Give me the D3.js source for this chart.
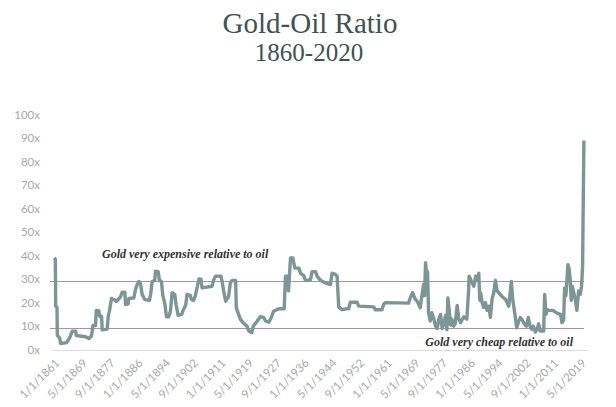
<!DOCTYPE html>
<html>
<head>
<meta charset="utf-8">
<script src="https://cdn.jsdelivr.net/npm/d3@7"></script>
<style>
  html, body { margin: 0; padding: 0; background: #ffffff; }
  svg { display: block; }
</style>
</head>
<body>
<svg id="chart" width="616" height="407"></svg>
<script>
// ---------- DATA ----------
const titleText = "Gold-Oil Ratio";
const subtitleText = "1860-2020";

// decimal years and the gold/oil ratio
const years = [
  1861.0,1861.4,1861.5,1861.9,1862.0,1862.7,1863.0,1864.8,1865.0,1865.7,1866.5,1867.5,1867.7,1870.5,1871.5,1872.3,
  1872.7,1873.5,1873.7,1874.5,1874.7,1875.3,1875.5,1877.0,1877.3,1877.7,1878.3,1879.5,1879.7,1881.0,1881.5,1882.3,
  1882.5,1883.3,1883.5,1885.0,1885.5,1886.0,1886.5,1887.0,1887.5,1888.3,1889.7,1890.1,1890.5,1891.3,1891.5,1892.3,
  1892.7,1893.3,1893.7,1894.3,1894.8,1895.5,1896.0,1896.5,1897.3,1897.7,1898.3,1899.4,1899.8,1900.6,1901.0,1902.0,
  1902.3,1903.0,1903.5,1904.0,1904.6,1905.2,1905.5,1908.5,1909.0,1909.6,1911.2,1911.6,1912.0,1912.6,1913.5,1914.0,
  1914.6,1915.6,1915.8,1916.5,1917.0,1918.1,1919.0,1919.6,1920.5,1920.9,1922.1,1923.0,1924.0,1924.6,1925.6,1926.4,
  1927.0,1928.6,1930.2,1930.6,1931.3,1931.5,1932.1,1932.8,1933.4,1934.6,1935.1,1936.1,1936.6,1938.1,1938.6,1939.6,
  1940.1,1941.1,1942.6,1944.1,1944.6,1945.6,1946.1,1946.6,1947.6,1949.6,1950.1,1952.1,1952.6,1957.1,1957.6,1959.6,
  1960.1,1960.6,1967.6,1968.1,1968.8,1969.6,1970.1,1970.6,1971.1,1971.6,1972.1,1972.4,1972.7,1973.0,1973.3,1973.6,
  1974.1,1974.6,1975.1,1975.7,1976.2,1976.7,1977.2,1977.7,1978.2,1978.7,1979.1,1979.4,1979.8,1980.2,1980.6,1981.1,
  1981.6,1982.2,1982.7,1983.2,1984.2,1985.1,1985.6,1985.8,1986.5,1987.2,1987.8,1988.4,1988.7,1989.0,1989.3,1989.7,
  1990.2,1990.7,1991.2,1991.7,1992.2,1992.7,1993.2,1993.7,1994.2,1994.8,1995.8,1996.8,1997.7,1998.5,1998.9,1999.5,
  2000.1,2000.7,2001.2,2001.8,2002.4,2003.0,2003.6,2004.1,2004.6,2005.1,2005.7,2006.2,2006.7,2007.2,2008.2,2008.5,
  2008.9,2009.3,2009.8,2011.0,2012.2,2013.3,2013.7,2014.2,2014.5,2014.9,2015.5,2015.9,2016.2,2016.5,2016.8,2017.3,
  2017.7,2018.2,2018.7,2019.2,2019.6,2019.9,2020.3
];
const ratios = [
  40,39.5,19.5,19,7,6,3.6,4,4.5,6,8.9,8.9,7,6.5,5.7,6.9,
  11.3,11.3,17.7,17.5,15.2,15.2,9.4,9.8,15.2,17.7,22.8,22,21.5,23.4,25.5,25.5,
  20.2,20.5,22.8,23,26.6,28.7,30,29,24.5,22.3,22,25,30,30.5,34.4,34.2,
  30.5,30,24.2,20.7,15,15,17.3,25.2,24.5,20.2,15.6,16,17.7,20,24.5,24,
  22.4,22,24,27.3,31.1,31,27.3,28,30.7,32.3,32.3,29.4,26,21.6,23.7,29.4,
  30.5,30.5,18.8,16,14,12.1,11,8.9,8.2,11,13.2,15,14.7,13.2,12.7,15,
  17.3,18.4,18.4,32.3,32.3,26,40,40,35.7,35.7,33.5,32.5,30.4,30.8,34.2,34.2,
  32.3,30.5,29.4,28.7,33.5,33,32.3,19.2,18,18.5,21.2,21.2,19.5,19.2,18,18,
  20.3,21,20.8,23,25.3,22.4,21.8,20.3,18.8,24,28.7,24,38,33.5,34,16.7,
  13.2,16.7,14.5,11,10,14,16,10,12,15.5,9.5,23,18,11.5,14,11,
  12,19.8,14,12.5,15,14,25.2,32.3,30,28,32.3,30.5,33.5,22,25,21,
  19,21,17.7,19.5,14.7,22.5,25.2,30.5,26,25,23.5,22.3,19.5,30,22.3,16.7,
  10.3,13,14.7,13.5,12,11,14.7,11,9.7,11,8.5,9.5,12,8.9,8.9,24.5,
  16,18,17.7,17.7,16.5,16,12.5,13.5,27.3,24,37.2,35,30.5,22,28,25,
  22.3,17.7,26,24.5,28,36,90
];

const yTicks = [0,10,20,30,40,50,60,70,80,90,100];
const xTickLabels = ["1/1/1861","5/1/1869","9/1/1877","1/1/1886","5/1/1894","9/1/1902","1/1/1911",
  "5/1/1919","9/1/1927","1/1/1936","5/1/1944","9/1/1952","1/1/1961","5/1/1969","9/1/1977",
  "1/1/1986","5/1/1994","9/1/2002","1/1/2011","5/1/2019"];
const refLevels = [30, 10];
const refNotes = ["Gold very expensive relative to oil", "Gold very cheap relative to oil"];

// ---------- LAYOUT ----------
const svg = d3.select("#chart");
const x = d3.scaleLinear().domain([1861, 2020.33]).range([54, 584]);
const y = d3.scaleLinear().domain([0, 100]).range([352, 117]);

// tick positions: every 100 months starting Jan 1861
const xTickVals = xTickLabels.map((_, i) => 1861 + i * 100 / 12);

// title
svg.append("text")
  .attr("x", 310).attr("y", 33)
  .attr("text-anchor", "middle")
  .attr("font-family", "Liberation Serif, DejaVu Serif, serif")
  .attr("font-size", 29)
  .attr("fill", "#3e5252")
  .text(titleText);
svg.append("text")
  .attr("x", 309).attr("y", 61)
  .attr("text-anchor", "middle")
  .attr("font-family", "Liberation Serif, DejaVu Serif, serif")
  .attr("font-size", 25)
  .attr("fill", "#3e5252")
  .text(subtitleText);

// baseline
svg.append("line")
  .attr("x1", 52).attr("x2", 588)
  .attr("y1", y(0) - 1.5).attr("y2", y(0) - 1.5)
  .attr("stroke", "#dcdcdc").attr("stroke-width", 1);

// y axis labels
const yAxis = d3.axisLeft(y).tickValues(yTicks).tickFormat(d => d + "x").tickSize(0).tickPadding(0);
const gy = svg.append("g").attr("transform", "translate(40,-2.5)").call(yAxis);
gy.select(".domain").remove();
gy.selectAll("text")
  .attr("font-family", "Lato, 'Open Sans', sans-serif")
  .attr("font-size", 11.5)
  .attr("fill", "#a9a9a9");

// x axis labels
const xAxis = d3.axisBottom(x).tickValues(xTickVals).tickFormat((d, i) => xTickLabels[i]).tickSize(0).tickPadding(0);
const gx = svg.append("g").attr("transform", "translate(0,358)").call(xAxis);
gx.select(".domain").remove();
gx.selectAll("text")
  .attr("font-family", "Lato, 'Open Sans', sans-serif")
  .attr("font-size", 11.5)
  .attr("fill", "#a9a9a9")
  .attr("text-anchor", "end")
  .attr("dy", "0.7em")
  .attr("transform", "rotate(-45)");

// reference lines
svg.selectAll("line.ref").data(refLevels).join("line")
  .attr("class", "ref")
  .attr("x1", 50).attr("x2", 584)
  .attr("y1", d => y(d)).attr("y2", d => y(d))
  .attr("stroke", "#a8939a").attr("stroke-width", 1.2);

// data line
const pts = years.map((yr, i) => [yr, ratios[i]]);
svg.append("path")
  .datum(pts)
  .attr("fill", "none")
  .attr("stroke", "#7c9595")
  .attr("stroke-width", 3.4)
  .attr("stroke-linejoin", "round")
  .attr("d", d3.line().x(d => x(d[0])).y(d => y(d[1])));

// annotations
svg.append("text")
  .attr("x", 102).attr("y", 258)
  .attr("font-family", "Liberation Serif, DejaVu Serif, serif")
  .attr("font-style", "italic").attr("font-weight", "bold")
  .attr("font-size", 12)
  .attr("fill", "#333333")
  .text(refNotes[0]);
svg.append("text")
  .attr("x", 573).attr("y", 346)
  .attr("text-anchor", "end")
  .attr("font-family", "Liberation Serif, DejaVu Serif, serif")
  .attr("font-style", "italic").attr("font-weight", "bold")
  .attr("font-size", 12)
  .attr("fill", "#333333")
  .text(refNotes[1]);
</script>
</body>
</html>
